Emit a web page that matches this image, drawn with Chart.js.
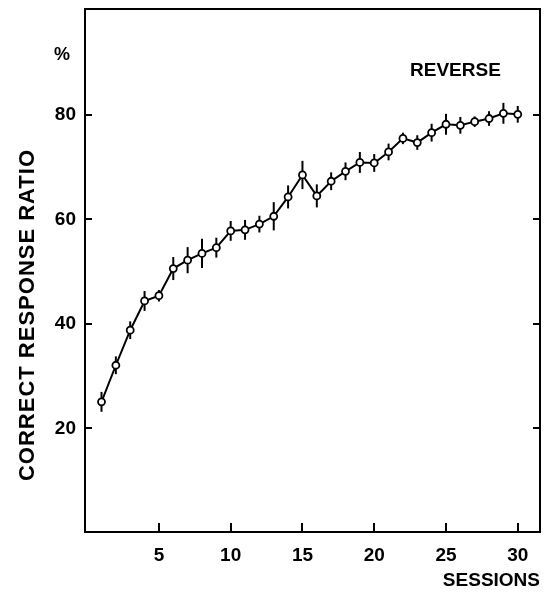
<!DOCTYPE html>
<html>
<head>
<meta charset="utf-8">
<script src="https://cdn.jsdelivr.net/npm/chart.js@4.4.1/dist/chart.umd.min.js"></script>
<style>
  html, body { margin: 0; padding: 0; background: #fff; }
  #wrap { width: 553px; height: 595px; }
</style>
</head>
<body>
<div id="wrap"><canvas id="c" width="553" height="595"></canvas></div>
<script>
// Sessions 1..30 of the reversal task
const sessions = [1,2,3,4,5,6,7,8,9,10,11,12,13,14,15,16,17,18,19,20,21,22,23,24,25,26,27,28,29,30];
// Mean correct response ratio (%) per session
const ratio = [25.1,32.1,38.8,44.4,45.4,50.6,52.2,53.5,54.6,57.8,58.0,59.1,60.6,64.3,68.5,64.5,67.3,69.2,70.9,70.8,72.9,75.5,74.7,76.6,78.2,78.0,78.7,79.3,80.3,80.1];
// Half-length of the vertical error bar (%) per session
const errHalf = [1.9,1.7,1.7,1.9,1.1,2.2,2.5,2.8,1.9,1.9,1.9,1.6,2.7,2.2,2.7,2.2,1.7,1.7,2.0,1.7,1.6,1.1,1.4,1.7,2.0,1.6,1.0,1.4,2.0,1.6];
const xTicks = [5,10,15,20,25,30];
const yTicks = [20,40,60,80];

const FONT = "'Liberation Sans', Arial, Helvetica, sans-serif";

const frameAndMarks = {
  id: 'frameAndMarks',
  beforeDatasetsDraw(chart) {
    const ctx = chart.ctx;
    const xs = chart.scales.x, ys = chart.scales.y;
    // error bars, drawn under the markers
    ctx.save();
    ctx.strokeStyle = '#000';
    ctx.lineWidth = 2;
    sessions.forEach((s, i) => {
      const px = xs.getPixelForValue(s);
      ctx.beginPath();
      ctx.moveTo(px, ys.getPixelForValue(ratio[i] - errHalf[i]));
      ctx.lineTo(px, ys.getPixelForValue(ratio[i] + errHalf[i]));
      ctx.stroke();
    });
    ctx.restore();
  },
  afterDraw(chart) {
    const ctx = chart.ctx;
    const a = chart.chartArea;
    const xs = chart.scales.x, ys = chart.scales.y;
    ctx.save();
    ctx.strokeStyle = '#000';
    ctx.lineWidth = 2;
    ctx.strokeRect(a.left, a.top, a.right - a.left, a.bottom - a.top);
    const tl = 7;
    ctx.beginPath();
    yTicks.forEach(v => {
      const py = Math.round(ys.getPixelForValue(v));
      ctx.moveTo(a.left, py); ctx.lineTo(a.left + tl, py);
      ctx.moveTo(a.right, py); ctx.lineTo(a.right - tl, py);
    });
    xTicks.forEach(v => {
      const px = Math.round(xs.getPixelForValue(v));
      ctx.moveTo(px, a.bottom); ctx.lineTo(px, a.bottom - tl - 2);
    });
    ctx.stroke();
    ctx.fillStyle = '#000';
    ctx.textBaseline = 'middle';
    // unit mark
    ctx.textAlign = 'center';
    ctx.font = 'bold 18px ' + FONT;
    ctx.fillText('%', 62, 55);
    // panel label
    ctx.textAlign = 'left';
    ctx.font = 'bold 19px ' + FONT;
    ctx.fillText('REVERSE', 410, 71);
    // vertical axis title
    ctx.save();
    ctx.translate(28, 315);
    ctx.rotate(-Math.PI / 2);
    ctx.textAlign = 'center';
    ctx.font = 'bold 22px ' + FONT;
    if ('letterSpacing' in ctx) ctx.letterSpacing = '1px';
    ctx.fillText('CORRECT RESPONSE RATIO', 0, 0);
    ctx.restore();
    ctx.restore();
  }
};

new Chart(document.getElementById('c'), {
  type: 'line',
  data: {
    datasets: [{
      data: sessions.map((s, i) => ({ x: s, y: ratio[i] })),
      borderColor: '#000',
      borderWidth: 2,
      tension: 0,
      pointRadius: 3.5,
      pointBorderWidth: 1.8,
      pointBackgroundColor: '#fff',
      pointBorderColor: '#000'
    }]
  },
  options: {
    responsive: false,
    animation: false,
    events: [],
    layout: { padding: { top: 9, right: 13, left: 0, bottom: 0 } },
    plugins: { legend: { display: false }, tooltip: { enabled: false } },
    scales: {
      x: {
        type: 'linear',
        min: -0.15,
        max: 31.55,
        grid: { display: false, drawTicks: false },
        border: { display: false },
        afterBuildTicks(scale) { scale.ticks = xTicks.map(v => ({ value: v })); },
        afterFit(scale) { scale.height = 63; scale.paddingLeft = 0; scale.paddingRight = 0; },
        ticks: {
          color: '#000',
          padding: 12,
          maxRotation: 0,
          font: { family: FONT, size: 19, weight: 'bold' }
        },
        title: {
          display: true,
          text: 'SESSIONS',
          align: 'end',
          color: '#000',
          padding: { top: 0, bottom: 3 },
          font: { family: FONT, size: 19, weight: 'bold' }
        }
      },
      y: {
        min: 0.2,
        max: 100.25,
        grid: { display: false, drawTicks: false },
        border: { display: false },
        afterBuildTicks(scale) { scale.ticks = yTicks.map(v => ({ value: v })); },
        afterFit(scale) { scale.width = 85; scale.paddingTop = 0; scale.paddingBottom = 0; },
        ticks: {
          color: '#000',
          padding: 9,
          font: { family: FONT, size: 19, weight: 'bold' }
        }
      }
    }
  },
  plugins: [frameAndMarks]
});
</script>
</body>
</html>
